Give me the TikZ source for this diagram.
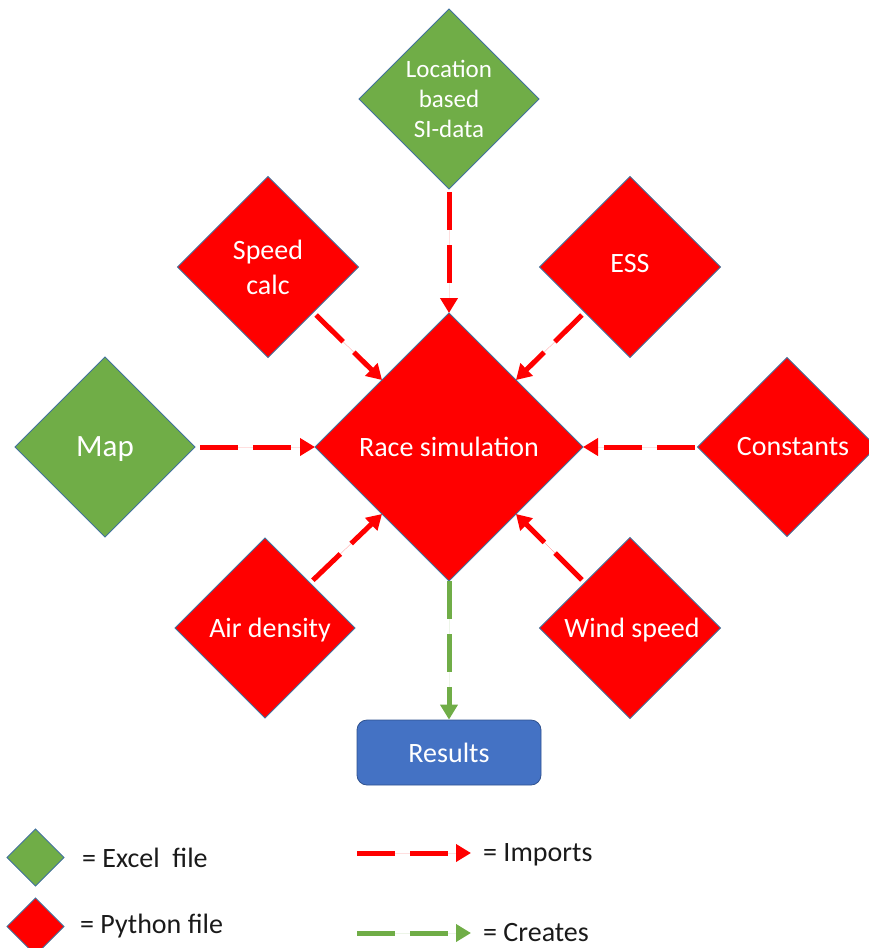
\documentclass[tikz,border=0pt]{standalone}
\usepackage{fontspec}
\setmainfont{Carlito}
\usetikzlibrary{shapes.geometric,arrows.meta}
\definecolor{xlgreen}{HTML}{70AD47}
\definecolor{pyred}{HTML}{FF0000}
\definecolor{resblue}{HTML}{4472C4}
\definecolor{edgeblue}{HTML}{41719C}
\definecolor{resedge}{HTML}{2F528F}
\definecolor{legtext}{HTML}{1A1A1A}

\begin{document}
\begin{tikzpicture}[x=1pt,y=-1pt,
  file/.style={diamond,aspect=1,inner sep=0pt,outer sep=0pt,draw=edgeblue,
    line width=0.8pt,text=white,font=\fontsize{28}{35}\selectfont,align=center},
  excel/.style={file,fill=xlgreen},
  python/.style={file,fill=pyred},
  imports/.style={draw=pyred,line width=5pt,dash pattern=on 38pt off 15pt,
    -{Triangle[length=15pt,width=17pt]},fill=pyred},
  creates/.style={imports,draw=xlgreen,fill=xlgreen},
  legend/.style={inner sep=0pt,text=legtext,font=\fontsize{28}{34}\selectfont,anchor=base west},
]
\useasboundingbox (0,0) rectangle (868,948);

% central module and the files it pulls in
\node[python,minimum size=268] (race) at (449,447) {Race simulation};
\node[excel,minimum size=180,font=\fontsize{25}{30}\selectfont] (loc) at (449,99) {Location\\based\\SI-data};
\node[python,minimum size=181] (speed) at (268,267) {Speed\\calc};
\node[python,minimum size=181,text depth=8pt] (ess) at (630,267) {ESS};
\node[excel,minimum size=180,text depth=0pt,font=\fontsize{31}{35}\selectfont] (map) at (105,447) {Map};
\node[python,minimum size=179] (const) at (787,447) {\hspace*{12pt}Constants};
\node[python,minimum size=180,text depth=0pt] (air) at (265,628) {\hspace*{10pt}Air density};
\node[python,minimum size=181,text depth=0pt] (wind) at (630,628) {\hspace*{4pt}Wind speed};
\node[draw=resedge,line width=0.8pt,fill=resblue,rounded corners=10pt,minimum width=184,
  minimum height=65,inner sep=0pt,text=white,font=\fontsize{28}{34}\selectfont] (res) at (449,752.5) {Results};

% imports
\draw[imports,shorten <=3pt] (loc.south) -- (race.north);
\draw[imports,shorten <=4pt] (speed.south east) -- (race.north west);
\draw[imports,shorten <=4pt] (ess.south west) -- (race.north east);
\draw[imports,shorten <=5pt] (map.east) -- (race.west);
\draw[imports,shorten <=3pt] (const.west) -- (race.east);
\draw[imports,shorten <=4pt] (air.north east) -- (race.south west);
\draw[imports,shorten <=4pt] (wind.north west) -- (race.south east);
% creates
\draw[creates] (race.south) -- (res.north);

% legend
\node[excel,minimum size=57] (lgx) at (35.5,857.5) {};
\node[python,minimum size=57] (lgp) at (35.5,926.5) {};
\node[legend] (lgxt) at (82,867) {= Excel\ \ file};
\node[legend] (lgpt) at (80,933) {= Python file};
\coordinate (impa) at (357,853);
\coordinate (impb) at (471,853);
\draw[imports] (impa) -- (impb);
\node[legend] (impt) at (483,861) {= Imports};
\coordinate (crea) at (357,933);
\coordinate (creb) at (471,933);
\draw[creates] (crea) -- (creb);
\node[legend] (cret) at (483,941) {= Creates};
\end{tikzpicture}
\end{document}
